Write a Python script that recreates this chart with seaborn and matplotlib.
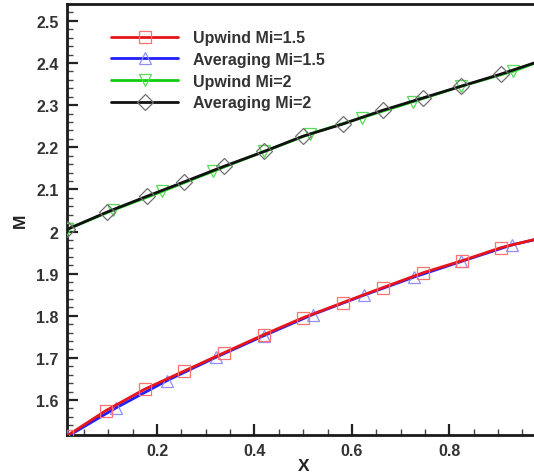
import matplotlib
matplotlib.use("Agg")
import matplotlib.pyplot as plt
import seaborn as sns
from matplotlib.ticker import MultipleLocator

sns.set_style("white")
plt.rcParams['font.family'] = ['Liberation Sans', 'DejaVu Sans']

# Upwind Mi=1.5 (red squares)
x_up15 = [0.015, 0.095, 0.175, 0.256, 0.337, 0.419, 0.499, 0.581, 0.664, 0.746, 0.827, 0.907, 1.0]
y_up15 = [1.515, 1.575, 1.626, 1.669, 1.712, 1.755, 1.795, 1.831, 1.867, 1.902, 1.931, 1.962, 1.988]
# Averaging Mi=1.5 (blue triangles)
x_av15 = [0.015, 0.115, 0.22, 0.32, 0.42, 0.52, 0.625, 0.728, 0.825, 0.928, 1.0]
y_av15 = [1.513, 1.581, 1.646, 1.701, 1.753, 1.803, 1.849, 1.892, 1.929, 1.968, 1.987]
# Upwind Mi=2 (green down triangles)
x_up2 = [0.015, 0.11, 0.21, 0.315, 0.42, 0.515, 0.62, 0.725, 0.825, 0.93, 1.0]
y_up2 = [2.005, 2.051, 2.095, 2.143, 2.190, 2.232, 2.270, 2.308, 2.345, 2.380, 2.410]
# Averaging Mi=2 (black diamonds)
x_av2 = [0.015, 0.097, 0.18, 0.256, 0.338, 0.42, 0.499, 0.581, 0.664, 0.746, 0.825, 0.907, 1.0]
y_av2 = [2.005, 2.046, 2.084, 2.118, 2.155, 2.190, 2.226, 2.255, 2.288, 2.317, 2.345, 2.374, 2.410]

labels = ["Upwind Mi=1.5", "Averaging Mi=1.5", "Upwind Mi=2", "Averaging Mi=2"]

fig = plt.figure(figsize=(5.34, 4.77), dpi=100)
ax = fig.add_axes([67/534, 1-436/477, 1.01 - 67/534, (436-5)/477])

series = [
    (x_up15, y_up15, "#e8141c", "#ff7070", "s", 9, 4),
    (x_av15, y_av15, "#1f1fff", "#8f8fff", "^", 9, 3),
    (x_up2, y_up2, "#10cc10", "#55dd55", "v", 9, 3),
    (x_av2, y_av2, "#111111", "#707070", "D", 8, 4),
]
for (xs, ys, lc, mc, mk, ms, z), lab in zip(series, labels):
    sns.lineplot(x=xs, y=ys, ax=ax, color=lc, lw=2.0, marker=mk, markersize=ms,
                 markerfacecolor="none", markeredgecolor=mc, markeredgewidth=0.9,
                 label=lab, zorder=z, sort=False, estimator=None)

ax.set_xlim(0.015, 0.985)
ax.set_ylim(1.517, 2.54)

ax.xaxis.set_major_locator(MultipleLocator(0.2))
ax.xaxis.set_minor_locator(MultipleLocator(0.05))
ax.yaxis.set_major_locator(MultipleLocator(0.1))
ax.yaxis.set_minor_locator(MultipleLocator(0.02))
ax.set_xticks([0.2, 0.4, 0.6, 0.8])
ax.set_yticks([1.6, 1.7, 1.8, 1.9, 2.0, 2.1, 2.2, 2.3, 2.4, 2.5])
ax.set_yticklabels(["1.6", "1.7", "1.8", "1.9", "2", "2.1", "2.2", "2.3", "2.4", "2.5"])

ax.tick_params(which="major", direction="in", length=8, width=1.6, colors="#222222",
               labelsize=11.5, labelcolor="#333333", pad=6, top=False, right=False,
               bottom=True, left=True)
ax.tick_params(which="minor", direction="in", length=4, width=1.0, colors="#444444",
               top=False, right=False, bottom=True, left=True)
for lab in ax.get_xticklabels() + ax.get_yticklabels():
    lab.set_fontweight("bold")

for s in ["left", "bottom", "top"]:
    ax.spines[s].set_linewidth(2.0)
    ax.spines[s].set_color("#1a1a1a")
ax.spines["right"].set_visible(False)

ax.set_xlabel("X", fontsize=12.5, fontweight="bold", color="#222222", labelpad=0)
ax.set_ylabel("M", fontsize=12.5, fontweight="bold", color="#222222", labelpad=6)

leg = ax.legend(loc="upper left", bbox_to_anchor=(0.07, 0.965), frameon=False,
                fontsize=11.5, handlelength=4.2, labelspacing=0.42, handletextpad=0.9,
                borderaxespad=0.3)
for t in leg.get_texts():
    t.set_fontweight("bold")
    t.set_color("#333333")

fig.savefig("out.png", dpi=100)
